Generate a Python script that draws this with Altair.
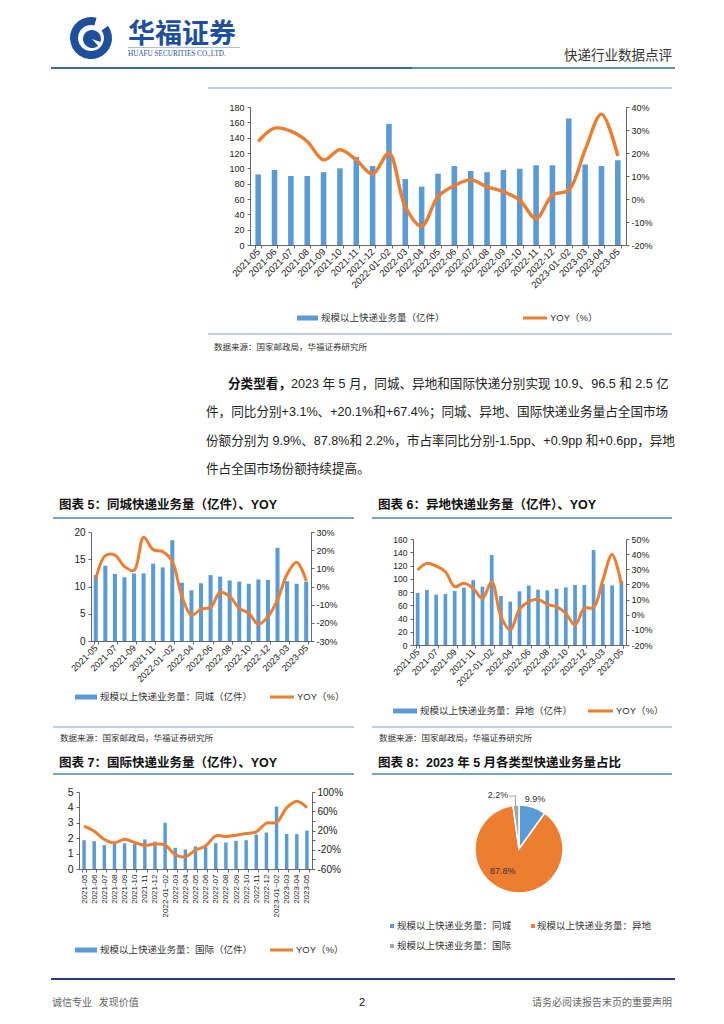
import altair as alt
import pandas as pd

# ---------------- canvas helpers (page coordinates -> canvas) ----------------
W, H = 708, 1008


def X(v):
    return v - 8


def Y(v):
    return v - 8


BLUE = "#5B9BD5"
ORANGE = "#ED7D31"
GRAY = "#A5A5A5"
NAVY = "#1D4F9C"
RULE_BLUE = "#4F7FC0"
LIGHT_RULE = "#7F9FD0"
CJK = "Noto Sans CJK SC"
MIX = "Liberation Sans, Noto Sans CJK SC"
NUM = "Liberation Sans"

# ---------------- data ----------------
months = ["2021-05", "2021-06", "2021-07", "2021-08", "2021-09", "2021-10",
          "2021-11", "2021-12", "2022-01~02", "2022-03", "2022-04", "2022-05",
          "2022-06", "2022-07", "2022-08", "2022-09", "2022-10", "2022-11",
          "2022-12", "2023-01~02", "2023-03", "2023-04", "2023-05"]

total_vol = [92, 98, 90, 90, 95, 100, 115, 103, 158, 86, 76, 93, 103, 96.5,
             95, 98, 99.5, 104, 104, 165, 105, 103, 110.5]
total_yoy = [25, 30.8, 29.5, 25, 17, 21.4, 17, 10.9, 19.9, -3.4, -11.8, 1,
             5.8, 8.3, 5.3, 3.2, -0.5, -8.5, 1.7, 3.9, 21.4, 36.9, 18.7]

local_vol = [12.1, 13.8, 12.3, 11.7, 12.4, 12.4, 14.2, 13.5, 18.5, 10.7, 9.3,
             10.6, 12.1, 11.8, 11.1, 10.9, 10.5, 11.3, 11.2, 17.1, 11.0, 10.5, 10.9]
local_yoy = [4.1, 17.0, 17.3, 11.0, 8.8, 27.1, 20.3, 19.2, 13.8, -5.5, -15.8,
             -12.5, -11.4, -3.3, -5.5, -12.0, -14.7, -20.8, -16.6, -7.4, 6.8, 13.3, 3.1]

remote_vol = [78.5, 83, 76, 77, 81.5, 86.5, 98, 88, 135.8, 74, 65.4, 81, 89.6,
              83.5, 82.5, 85, 87, 90.6, 90.6, 143.4, 92, 90, 96.5]
remote_yoy = [29.5, 33.9, 32.1, 28.4, 18.5, 20.7, 17.4, 10.8, 21.8, -1.3, -10.1,
              3.5, 8.6, 10.1, 6.8, 5.3, 0.9, -6.8, 4.2, 4.8, 22.9, 39.8, 20.1]

intl_vol = [1.87, 1.81, 1.55, 1.66, 1.66, 1.62, 1.92, 1.77, 3.0, 1.38, 1.27,
            1.47, 1.42, 1.68, 1.72, 1.83, 1.87, 2.24, 2.37, 4.05, 2.28, 2.26, 2.5]
intl_yoy = [29, 18.6, 1.4, -5.5, 2, -4.8, -11, -8.3, -10.3, -30.3, -34.5, -20.7,
            -12.4, 9, 7.6, 10.3, 13.8, 17.2, 35.2, 36.6, 66.9, 80.7, 67.4]

pie_cats = ["规模以上快递业务量：同城", "规模以上快递业务量：异地", "规模以上快递业务量：国际"]
pie_shares = [9.9, 87.8, 2.2]
pie_labels = ["9.9%", "87.8%", "2.2%"]
pie_colors = [BLUE, ORANGE, GRAY]

every_other = months[::2]

one = pd.DataFrame({"k": [0]})


# ---------------- decoration helpers ----------------
def text(s, x, y, size, color="#222222", font=CJK, weight="normal",
         align="left", baseline="middle"):
    return alt.Chart(one).mark_text(
        font=font, fontSize=size, fontWeight=weight, color=color,
        align=align, baseline=baseline
    ).encode(x=alt.value(X(x)), y=alt.value(Y(y)), text=alt.value(s))


def hrule(x0, x1, y, color, w):
    return alt.Chart(one).mark_rule(color=color, strokeWidth=w).encode(
        x=alt.value(X(x0)), x2=alt.value(X(x1)), y=alt.value(Y(y)))


def vrule(x, y0, y1, color, w):
    return alt.Chart(one).mark_rule(color=color, strokeWidth=w).encode(
        x=alt.value(X(x)), y=alt.value(Y(y0)), y2=alt.value(Y(y1)))


def box(x0, x1, y0, y1, color):
    return alt.Chart(one).mark_rect(color=color).encode(
        x=alt.value(X(x0)), x2=alt.value(X(x1)),
        y=alt.value(Y(y0)), y2=alt.value(Y(y1)))


def arc(cx, cy, r_out, r_in, t0, t1, color):
    return alt.Chart(one).mark_arc(
        color=color, outerRadius=r_out, innerRadius=r_in, theta=t0, theta2=t1
    ).encode(x=alt.value(X(cx)), y=alt.value(Y(cy)))


# ---------------- combo (bar + smooth line) chart ----------------
def combo(vol, yoy, x0, x1, y0, y1, vmax, vstep, ymin, ymax, ystep, pad,
          xvals, angle, xfs, lfs, rfs, lw):
    df = pd.DataFrame({"month": months, "vol": vol, "yoy": yoy})
    base = alt.Chart(df)
    xenc = alt.X(
        "month:N", sort=months, title=None,
        scale=alt.Scale(range=[X(x0), X(x1)], paddingInner=pad, paddingOuter=pad / 2),
        axis=alt.Axis(orient="bottom", offset=Y(y1) - H, values=xvals,
                      labelAngle=angle, labelAlign="right", labelBaseline="middle",
                      labelFontSize=xfs, labelPadding=2, labelOverlap=False,
                      tickBand="extent", tickSize=3),
    )
    bars = base.mark_bar(color=BLUE).encode(
        x=xenc,
        y=alt.Y("vol:Q", title=None,
                scale=alt.Scale(domain=[0, vmax], range=[Y(y1), Y(y0)], nice=False, zero=True),
                axis=alt.Axis(orient="left", offset=-X(x0),
                              values=list(range(0, vmax + 1, vstep)),
                              labelFontSize=lfs, labelPadding=3, tickSize=3)),
    )
    line = base.mark_line(color=ORANGE, strokeWidth=lw, interpolate="catmull-rom").encode(
        x=xenc,
        y=alt.Y("yoy:Q", title=None,
                scale=alt.Scale(domain=[ymin, ymax], range=[Y(y1), Y(y0)], nice=False, zero=False),
                axis=alt.Axis(orient="right", offset=X(x1) - W,
                              values=list(range(ymin, ymax + 1, ystep)),
                              labelExpr="datum.value + '%'",
                              labelFontSize=rfs, labelPadding=2, tickSize=3)),
    )
    return alt.layer(bars, line).resolve_scale(y="independent")


def legend(xb0, xb1, xt, xl0, xl1, xl, y, label, fs=9.5):
    return [
        box(xb0, xb1, y - 2.5, y + 2.5, BLUE),
        text(label, xt, y, fs, color="#333333"),
        hrule(xl0, xl1, y, ORANGE, 3),
        text("YOY（%）", xl, y, fs, color="#333333", font=MIX),
    ]


layers = []

# ---------------- header ----------------
layers += [
    arc(91, 38, 21, 13, 0.95, 6.55, NAVY),
    arc(92, 39, 9, 0, 2.4, 8.2, NAVY),
    text("华福证券", 128, 35, 27, color=NAVY, weight="bold"),
    hrule(128, 240, 47.5, "#9DB0CF", 0.8),
    text("HUAFU SECURITIES CO.,LTD.", 128, 54, 7.2, color=NAVY, font="Liberation Serif"),
    text("快递行业数据点评", 672, 56, 13.5, color="#333333", align="right"),
    hrule(51, 675, 68, "#3A66AE", 1.5),
    hrule(51, 412, 68, "#3A66AE", 2.2),
    hrule(208, 672, 88, LIGHT_RULE, 1.2),
]

# ---------------- chart 1 (total) ----------------
layers.append(combo(total_vol, total_yoy, 250, 626, 107, 245, 180, 20, -20, 40, 10,
                    0.66, months, 315, 9.5, 9, 9, 3.4))
layers += legend(297, 318, 321, 523, 547, 550, 318, "规模以上快递业务量（亿件）")
layers += [
    hrule(208, 672, 334, LIGHT_RULE, 1.2),
    text("数据来源：国家邮政局，华福证券研究所", 214, 347, 8.5, color="#333333"),
]

# ---------------- paragraph ----------------
PFS = 12.6
layers += [
    text("分类型看，", 228, 384, PFS, color="#111111", weight="bold"),
    text("2023 年 5 月，同城、异地和国际快递分别实现 10.9、96.5 和 2.5 亿", 291, 384, PFS,
         color="#222222", font=MIX),
    text("件，同比分别+3.1%、+20.1%和+67.4%；同城、异地、国际快递业务量占全国市场", 206, 412, PFS,
         color="#222222", font=MIX),
    text("份额分别为 9.9%、87.8%和 2.2%，市占率同比分别-1.5pp、+0.9pp 和+0.6pp，异地", 206, 441, PFS,
         color="#222222", font=MIX),
    text("件占全国市场份额持续提高。", 206, 469, PFS, color="#222222", font=MIX),
]

# ---------------- chart 5 (同城) ----------------
layers += [
    text("图表 5：同城快递业务量（亿件）、YOY", 59, 505, 12.5, color="#111111", font=MIX, weight="bold"),
    hrule(53, 354, 518, RULE_BLUE, 1.5),
]
layers.append(combo(local_vol, local_yoy, 91, 311, 532, 641, 20, 5, -30, 30, 10,
                    0.58, every_other, 315, 9, 10, 9, 3))
layers += legend(75, 97, 100, 270, 294, 297, 697, "规模以上快递业务量：同城（亿件）")
layers += [
    hrule(53, 354, 727, LIGHT_RULE, 1.2),
    text("数据来源：国家邮政局，华福证券研究所", 60, 738, 8.5, color="#333333"),
]

# ---------------- chart 6 (异地) ----------------
layers += [
    text("图表 6：异地快递业务量（亿件）、YOY", 378, 505, 12.5, color="#111111", font=MIX, weight="bold"),
    hrule(372, 672, 518, RULE_BLUE, 1.5),
]
layers.append(combo(remote_vol, remote_yoy, 413, 626, 539, 645, 160, 20, -20, 50, 10,
                    0.6, every_other, 315, 9, 8.5, 9, 3))
layers += legend(393, 417, 420, 588, 613, 616, 711, "规模以上快递业务量：异地（亿件）")
layers += [
    hrule(372, 672, 727, LIGHT_RULE, 1.2),
    text("数据来源：国家邮政局，华福证券研究所", 379, 738, 8.5, color="#333333"),
]

# ---------------- chart 7 (国际) ----------------
layers += [
    text("图表 7：国际快递业务量（亿件）、YOY", 59, 763, 12.5, color="#111111", font=MIX, weight="bold"),
    hrule(53, 354, 774, RULE_BLUE, 1.5),
]
layers.append(combo(intl_vol, intl_yoy, 79, 312, 792, 869, 5, 1, -60, 100, 20,
                    0.66, months, 270, 8, 10.5, 10, 3))
layers += legend(75, 97, 100, 270, 293, 296, 950, "规模以上快递业务量：国际（亿件）")

# ---------------- chart 8 (pie) ----------------
layers += [
    text("图表 8：2023 年 5 月各类型快递业务量占比", 378, 763, 12.5, color="#111111", font=MIX, weight="bold"),
    hrule(372, 672, 774, RULE_BLUE, 1.5),
]
pie_df = pd.DataFrame({"cat": pie_cats, "share": pie_shares, "label": pie_labels,
                       "idx": list(range(len(pie_cats)))})
CX, CY = 519, 849
pie = alt.Chart(pie_df).mark_arc(outerRadius=44, stroke="white", strokeWidth=1.5).encode(
    theta=alt.Theta("share:Q", stack=True),
    color=alt.Color("cat:N", scale=alt.Scale(domain=pie_cats, range=pie_colors), legend=None),
    order=alt.Order("idx:Q"),
    x=alt.value(X(CX)), y=alt.value(Y(CY)),
)
pie_text = alt.Chart(pie_df).transform_joinaggregate(
    tot="sum(share)"
).transform_window(
    cum="sum(share)", sort=[alt.SortField("idx")]
).transform_calculate(
    ang="(datum.cum - datum.share / 2) / datum.tot * 2 * PI + (datum.idx == 2 ? -0.3 : datum.idx == 1 ? 0.4 : 0)",
    rad="datum.idx == 1 ? 27 : datum.idx == 2 ? 58 : 52",
).mark_text(font=NUM, fontSize=9, color="#333333").encode(
    theta=alt.Theta("ang:Q", scale=None),
    radius=alt.Radius("rad:Q", scale=None),
    text="label:N",
    x=alt.value(X(CX)), y=alt.value(Y(CY)),
)
layers += [pie, pie_text,
           hrule(509, 515.5, 796, "#8C8C8C", 0.8),
           vrule(515.5, 796, 806, "#8C8C8C", 0.8)]
for (bx, tx, ty), cat, col in zip([(392, 397, 926), (533, 537, 926), (392, 397, 946)],
                                  pie_cats, pie_colors):
    layers += [box(bx - 2, bx + 2, ty - 2, ty + 2, col),
               text(cat, tx, ty, 9.5, color="#333333")]

# ---------------- footer ----------------
layers += [
    hrule(51, 675, 979, "#1F3F7F", 2),
    text("诚信专业\u00a0\u00a0\u00a0发现价值", 52, 1003, 10, color="#666666"),
    text("2", 362, 1003, 11, color="#111111", font=NUM, align="center"),
    text("请务必阅读报告末页的重要声明", 672, 1003, 10, color="#666666", align="right"),
]

chart = alt.layer(*layers).resolve_scale(
    x="independent", y="independent", color="independent", theta="independent"
).resolve_axis(
    x="independent", y="independent"
).properties(
    width=W, height=H, padding=0,
    autosize=alt.AutoSizeParams(type="none"),
).configure_view(
    stroke=None
).configure_axis(
    grid=False, title=None, domainColor="#404040", tickColor="#404040",
    domainWidth=0.8, tickWidth=0.8, labelColor="#1A1A1A", labelFont=NUM,
)

chart.save("out.html", embed_options={"renderer": "svg", "actions": False})
